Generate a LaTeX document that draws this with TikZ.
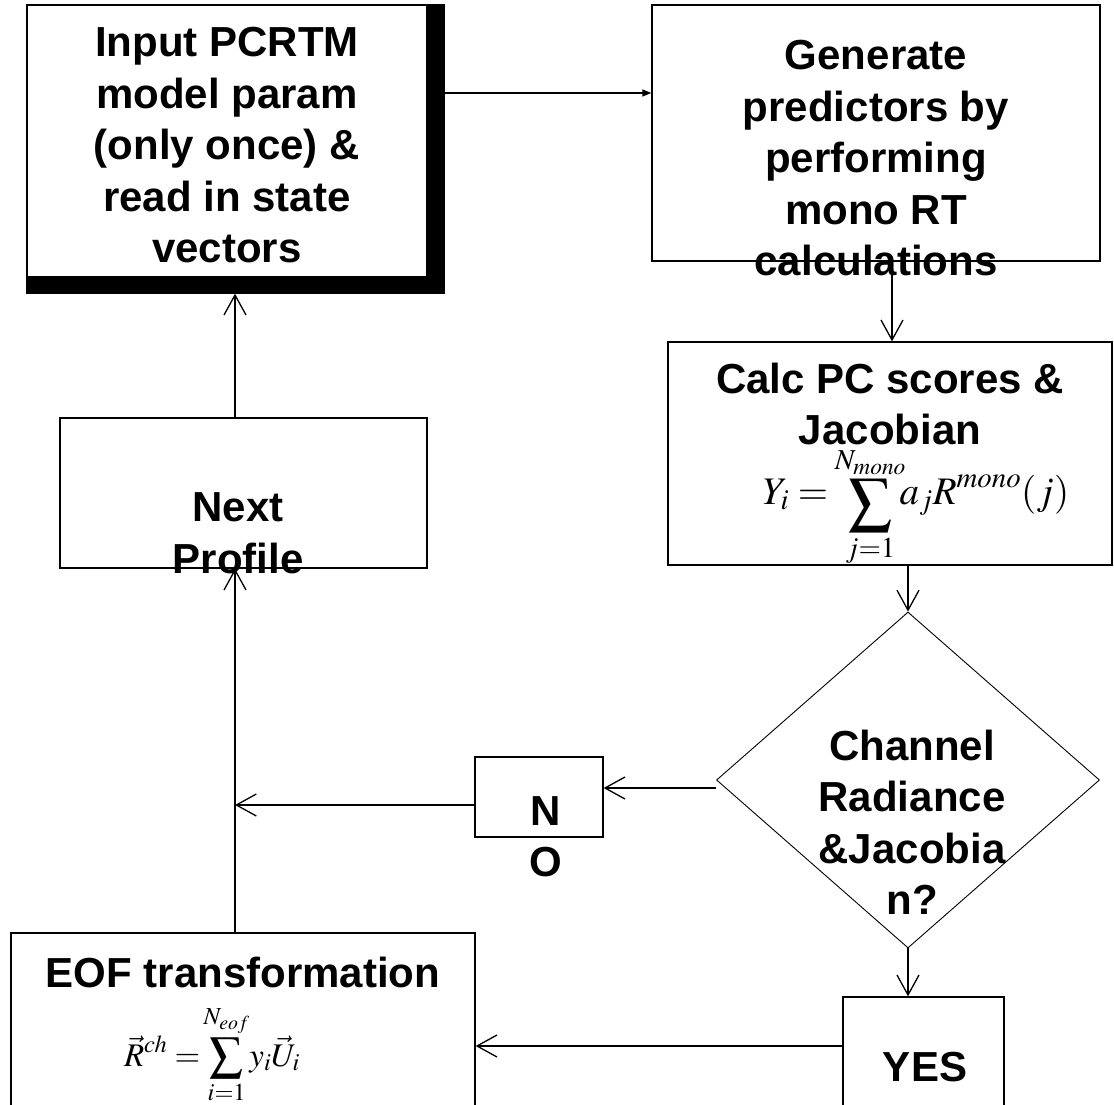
\documentclass[tikz,border=0pt]{standalone}
\usepackage{mathptmx}
\usepackage[no-math]{fontspec}
\setmainfont{Liberation Sans}
\usetikzlibrary{arrows.meta,shapes.geometric,calc,backgrounds}
\newcommand\txtlines[1]{\begin{tabular}[t]{@{}c@{}}#1\end{tabular}}
% a limit that does not widen the operator
\newcommand\zwlim[1]{\makebox[0pt]{$\scriptstyle #1$}}
% a larger, lowered summation sign
\newcommand\bigsumop{\mathop{\raisebox{-12pt}{\scalebox{1.1}{$\displaystyle\sum$}}}\limits}
\begin{document}
\begin{tikzpicture}[x=1pt,y=-1pt,
  box/.style={draw, line width=1.3pt, fill=white, inner sep=0pt},
  lbl/.style={font=\fontsize{42}{51.5}\selectfont\bfseries, inner sep=0pt, anchor=base},
  eqn/.style={inner sep=0pt, anchor=base},
  arr/.style={line width=1.3pt, -{Straight Barb[length=20pt,width=22pt,line width=1.3pt]}},
  tri/.style={line width=1.3pt, -{Triangle[length=9pt,width=7pt]}}]
\useasboundingbox (0,0) rectangle (1114,1105);

% boxes
\node[box, minimum width=400, minimum height=272] (inp) at (227,141) {};
\begin{scope}[on background layer]
  \fill (inp.north west) rectangle ($(inp.south east)+(17,16)$);
\end{scope}
\node[box, minimum width=448, minimum height=256] (gen) at (876,133) {};
\node[box, minimum width=444, minimum height=223] (calc) at (890,453.5) {};
\node[box, diamond, line width=0.9pt, minimum width=383, minimum height=336] (dec) at (908,780) {};
\node[box, minimum width=128, minimum height=80] (no) at (539,797) {};
\node[box, minimum width=367, minimum height=150] (next) at (243.5,493) {};
\node[box, minimum width=464, minimum height=197] (eof) at (243,1031.5) {};
\node[box, minimum width=161, minimum height=133] (yes) at (923.5,1063.5) {};

% texts
\node[lbl] (tinp) at (227,57) {\txtlines{Input PCRTM\\model param\\(only once) \&\\read in state\\vectors}};
\node[lbl] (tgen) at (876,70) {\txtlines{Generate\\predictors by\\performing\\mono RT\\calculations}};
\node[lbl] (tcalc) at (890,393) {\txtlines{Calc PC scores \&\\Jacobian}};
\node[eqn, font=\fontsize{39}{46}\selectfont] (fcalc) at (916,504)
  {$\displaystyle Y_i=\;\bigsumop_{j=1}^{\zwlim{N_{mono}}}a_jR^{mono}(j)$};
\node[lbl] (tnext) at (238,521.5) {\txtlines{Next\\Profile}};
\node[lbl] (tdec) at (912,760) {\txtlines{Channel\\Radiance\\\&Jacobia\\n?}};
\node[lbl] (tno) at (546,825) {\txtlines{N\\O}};
\node[lbl] (tyes) at (925,1081) {YES};
\node[lbl] (teof) at (243,987) {EOF transformation};
\node[eqn, font=\fontsize{33}{40}\selectfont] (feof) at (212,1066)
  {$\displaystyle \vec{R}^{ch}=\sum_{i=1}^{\zwlim{N_{eof}}}y_i\vec{U}_i$};

% connectors
\coordinate (a1) at (444,93);
\coordinate (j1) at (235,805);
\draw[tri] (a1) -- (a1 -| gen.west);
\draw[arr] ([xshift=16pt]gen.south) -- ([xshift=16pt]gen.south |- calc.north);
\draw[arr] ([xshift=18pt]calc.south) -- (dec.north);
\draw[arr] ([yshift=-8pt]dec.west) -- ([yshift=-8pt]dec.west -| no.east);
\draw[arr] (dec.south) -- (dec.south |- yes.north);
\draw[arr] ([yshift=17.5pt]yes.west) -- ([yshift=17.5pt]yes.west -| eof.east);
\draw[arr] ([yshift=-8pt]no.west) -- (j1);
\draw[arr] (eof.north -| j1) -- (next.south -| j1);
\draw[arr] (next.north -| j1) -- ($(inp.south -| j1)+(0,16)$);
\end{tikzpicture}
\end{document}
